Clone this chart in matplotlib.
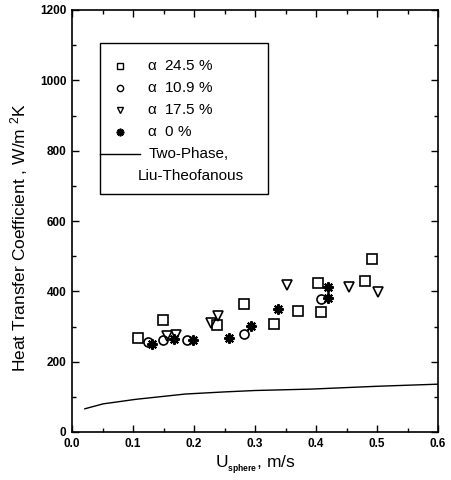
import matplotlib
matplotlib.use("Agg")
import matplotlib.pyplot as plt
from matplotlib.patches import Rectangle
from matplotlib.ticker import MultipleLocator

plt.rcParams['font.family'] = ['Liberation Sans', 'DejaVu Sans']
plt.rcParams['mathtext.fontset'] = 'custom'
plt.rcParams['mathtext.rm'] = 'Liberation Sans'
plt.rcParams['mathtext.it'] = 'Liberation Sans'
plt.rcParams['mathtext.bf'] = 'Liberation Sans:bold'

# alpha 24.5 % (squares)
sq_x = [0.109, 0.149, 0.238, 0.282, 0.331, 0.371, 0.403, 0.409, 0.481, 0.492]
sq_y = [266, 319, 304, 365, 308, 344, 423, 341, 429, 491]
# alpha 10.9 % (circles)
ci_x = [0.125, 0.149, 0.189, 0.282, 0.409]
ci_y = [257, 261, 261, 278, 379]
# alpha 17.5 % (down triangles)
tr_x = [0.155, 0.170, 0.228, 0.239, 0.353, 0.454, 0.501]
tr_y = [274, 277, 311, 330, 418, 412, 398]
# alpha 0 % (asterisks)
st_x = [0.131, 0.167, 0.199, 0.258, 0.294, 0.338, 0.420, 0.420]
st_y = [249, 265, 261, 267, 302, 351, 413, 382]
# Two-phase, Liu-Theofanous line
ln_x = [0.021, 0.051, 0.105, 0.186, 0.25, 0.30, 0.392, 0.50, 0.60]
ln_y = [66, 80, 93, 108, 114, 118, 122, 130, 136]

labels = [r"$\alpha$  24.5 %", r"$\alpha$  10.9 %", r"$\alpha$  17.5 %", r"$\alpha$  0 %"]

fig = plt.figure(figsize=(4.51, 4.80), dpi=100)
ax = fig.add_axes([72/451, 48/480, 366/451, 422/480])

mk = dict(linestyle='none', color='black', markerfacecolor='none', markeredgewidth=1.2)
ax.plot(sq_x, sq_y, marker='s', markersize=6.5, **mk)
ax.plot(ci_x, ci_y, marker='o', markersize=6.5, **mk)
ax.plot(tr_x, tr_y, marker='v', markersize=7.5, **mk)
ax.plot(st_x, st_y, marker=(8, 2, 0), markersize=7.5, linestyle='none', color='black',
        markeredgewidth=1.5)
ax.plot(ln_x, ln_y, color='black', linewidth=1.0)

ax.set_xlim(0, 0.6)
ax.set_ylim(0, 1200)
ax.xaxis.set_major_locator(MultipleLocator(0.1))
ax.xaxis.set_minor_locator(MultipleLocator(0.05))
ax.yaxis.set_major_locator(MultipleLocator(200))
ax.yaxis.set_minor_locator(MultipleLocator(100))
ax.tick_params(which='both', direction='in', top=True, right=True, width=1.0)
ax.tick_params(which='major', length=5, labelsize=8.5, pad=4)
ax.tick_params(which='minor', length=3)
ax.set_xticks([0, 0.1, 0.2, 0.3, 0.4, 0.5, 0.6])
ax.set_xticklabels(['0.0', '0.1', '0.2', '0.3', '0.4', '0.5', '0.6'], fontweight='bold')
ax.set_yticks([0, 200, 400, 600, 800, 1000, 1200])
ax.set_yticklabels(['0', '200', '400', '600', '800', '1000', '1200'], fontweight='bold')
for s in ax.spines.values():
    s.set_linewidth(1.2)

ax.set_xlabel(r"U$_{_{\mathbf{sphere}}}$, m/s", fontsize=12.5)
ax.xaxis.set_label_coords(0.5, -0.052)
ax.set_ylabel(r"Heat Transfer Coefficient , W/m $^{\mathregular{2}}$K", fontsize=12.5)
ax.yaxis.set_label_coords(-0.115, 0.46)

# Legend drawn in axes coordinates
ax.add_patch(Rectangle((0.0765, 0.564), 0.4595, 0.3585, transform=ax.transAxes,
                       fill=False, edgecolor='black', linewidth=1.0, zorder=5))
rows = [0.868, 0.814, 0.763, 0.712]
styles = [dict(marker='s', markersize=4.5, markerfacecolor='none', markeredgewidth=1.0),
          dict(marker='o', markersize=4.5, markerfacecolor='none', markeredgewidth=1.0),
          dict(marker='v', markersize=5, markerfacecolor='none', markeredgewidth=1.0),
          dict(marker=(8, 2, 0), markersize=5.5, markeredgewidth=1.3)]
for yv, st, lab in zip(rows, styles, labels):
    ax.plot([0.131], [yv], transform=ax.transAxes, color='black', linestyle='none', **st)
    ax.text(0.204, yv, lab, transform=ax.transAxes, fontsize=11, va='center', ha='left')
ax.plot([0.0765, 0.186], [0.659, 0.659], transform=ax.transAxes, color='black', linewidth=1.0)
ax.text(0.208, 0.659, "Two-Phase,", transform=ax.transAxes, fontsize=11, va='center')
ax.text(0.180, 0.607, "Liu-Theofanous", transform=ax.transAxes, fontsize=11, va='center')

fig.savefig("out.png", dpi=100)
